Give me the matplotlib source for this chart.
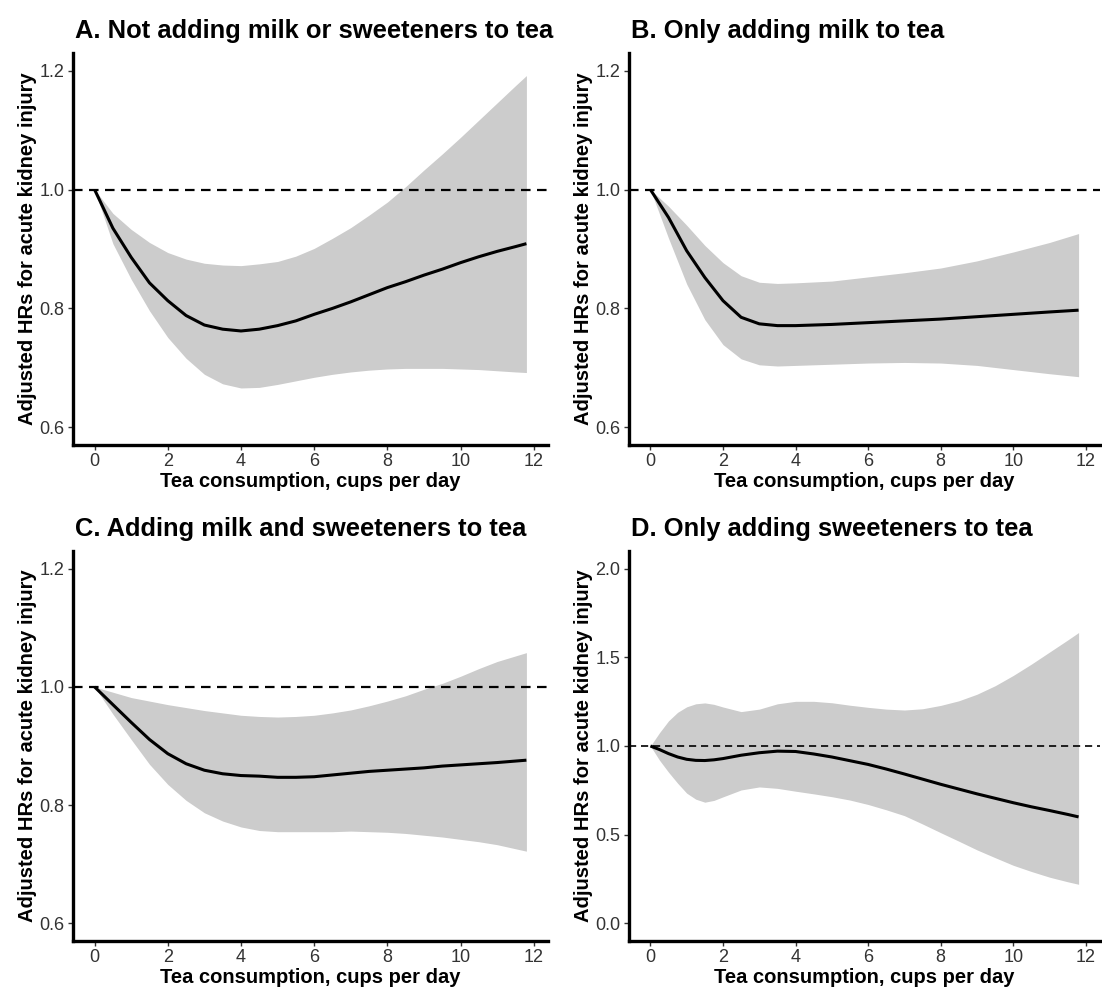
import matplotlib
matplotlib.use("Agg")
import matplotlib.pyplot as plt

plt.rcParams['font.family'] = ['Liberation Sans', 'DejaVu Sans']

titles = ["A. Not adding milk or sweeteners to tea",
          "B. Only adding milk to tea",
          "C. Adding milk and sweeteners to tea",
          "D. Only adding sweeteners to tea"]
xlabel = "Tea consumption, cups per day"
ylabel = "Adjusted HRs for acute kidney injury"

# Panel A
a_x = [0, 0.5, 1, 1.5, 2, 2.5, 3, 3.5, 4, 4.5, 5, 5.5, 6, 6.5, 7, 7.5, 8, 8.5, 9, 9.5, 10, 10.5, 11, 11.5, 11.8]
a_hr = [1.0, 0.935, 0.886, 0.843, 0.813, 0.788, 0.772, 0.765, 0.762, 0.765, 0.771, 0.779, 0.790, 0.800, 0.811,
        0.823, 0.835, 0.845, 0.856, 0.866, 0.877, 0.887, 0.896, 0.904, 0.909]
a_hi = [1.0, 0.960, 0.933, 0.911, 0.894, 0.883, 0.876, 0.873, 0.872, 0.875, 0.879, 0.888, 0.901, 0.918, 0.936,
        0.957, 0.979, 1.005, 1.033, 1.060, 1.088, 1.117, 1.146, 1.175, 1.192]
a_lo = [1.0, 0.909, 0.849, 0.796, 0.751, 0.716, 0.689, 0.673, 0.666, 0.667, 0.672, 0.678, 0.684, 0.689, 0.693,
        0.696, 0.698, 0.699, 0.699, 0.699, 0.698, 0.697, 0.695, 0.693, 0.692]

# Panel B
b_x = [0, 0.5, 1, 1.5, 2, 2.5, 3, 3.5, 4, 5, 6, 7, 8, 9, 10, 11, 11.8]
b_hr = [1.0, 0.953, 0.897, 0.852, 0.813, 0.785, 0.774, 0.771, 0.771, 0.773, 0.776, 0.779, 0.782, 0.786, 0.790, 0.794, 0.797]
b_hi = [1.0, 0.972, 0.940, 0.906, 0.877, 0.855, 0.844, 0.842, 0.843, 0.846, 0.853, 0.860, 0.868, 0.880, 0.895, 0.911, 0.926]
b_lo = [1.0, 0.918, 0.841, 0.781, 0.739, 0.715, 0.705, 0.703, 0.704, 0.706, 0.708, 0.709, 0.708, 0.704, 0.697, 0.690, 0.685]

# Panel C
c_x = [0, 0.5, 1, 1.5, 2, 2.5, 3, 3.5, 4, 4.5, 5, 5.5, 6, 6.5, 7, 7.5, 8, 8.5, 9, 9.5, 10, 10.5, 11, 11.8]
c_hr = [1.0, 0.970, 0.940, 0.911, 0.887, 0.870, 0.859, 0.853, 0.850, 0.849, 0.847, 0.847, 0.848, 0.851, 0.854,
        0.857, 0.859, 0.861, 0.863, 0.866, 0.868, 0.870, 0.872, 0.876]
c_hi = [1.0, 0.991, 0.982, 0.976, 0.970, 0.965, 0.960, 0.956, 0.952, 0.950, 0.949, 0.950, 0.952, 0.956, 0.961,
        0.968, 0.976, 0.985, 0.996, 1.006, 1.018, 1.031, 1.043, 1.058]
c_lo = [1.0, 0.954, 0.911, 0.869, 0.835, 0.808, 0.787, 0.773, 0.763, 0.757, 0.755, 0.755, 0.755, 0.755, 0.756,
        0.755, 0.754, 0.752, 0.749, 0.746, 0.742, 0.738, 0.733, 0.722]

# Panel D
d_x = [0, 0.25, 0.5, 0.75, 1, 1.25, 1.5, 1.75, 2, 2.5, 3, 3.5, 4, 4.5, 5, 5.5, 6, 6.5, 7, 7.5, 8, 8.5, 9, 9.5,
       10, 10.5, 11, 11.5, 11.8]
d_hr = [1.0, 0.980, 0.957, 0.938, 0.925, 0.919, 0.918, 0.922, 0.929, 0.948, 0.962, 0.971, 0.969, 0.955, 0.938,
        0.917, 0.896, 0.870, 0.842, 0.813, 0.784, 0.757, 0.730, 0.705, 0.680, 0.657, 0.636, 0.614, 0.600]
d_hi = [1.0, 1.075, 1.142, 1.190, 1.221, 1.238, 1.243, 1.235, 1.220, 1.194, 1.208, 1.238, 1.252, 1.252, 1.244,
        1.230, 1.218, 1.208, 1.203, 1.210, 1.229, 1.255, 1.292, 1.340, 1.398, 1.462, 1.530, 1.598, 1.640]
d_lo = [1.0, 0.920, 0.852, 0.790, 0.734, 0.700, 0.683, 0.693, 0.713, 0.752, 0.769, 0.761, 0.745, 0.730, 0.714,
        0.695, 0.670, 0.640, 0.607, 0.560, 0.511, 0.463, 0.414, 0.370, 0.327, 0.292, 0.260, 0.234, 0.220]

x_ticks = [0, 2, 4, 6, 8, 10, 12]
y_ticks_abc = [0.6, 0.8, 1.0, 1.2]
y_ticks_d = [0.0, 0.5, 1.0, 1.5, 2.0]

panels = [
    (a_x, a_hr, a_hi, a_lo, y_ticks_abc, (0.57, 1.23)),
    (b_x, b_hr, b_hi, b_lo, y_ticks_abc, (0.57, 1.23)),
    (c_x, c_hr, c_hi, c_lo, y_ticks_abc, (0.57, 1.23)),
    (d_x, d_hr, d_hi, d_lo, y_ticks_d, (-0.1, 2.1)),
]

W, H = 1102, 992
fig = plt.figure(figsize=(W / 100, H / 100), dpi=100)

# pixel boxes: left, right, top, bottom
boxes = [(73, 548, 53, 445), (629, 1100, 53, 445),
         (73, 548, 551, 941), (629, 1100, 551, 941)]

for i, (box, pdata) in enumerate(zip(boxes, panels)):
    l, r, t, b = box
    ax = fig.add_axes([l / W, (H - b) / H, (r - l) / W, (b - t) / H])
    xs, hr, hi, lo, yt, ylim = pdata
    ax.fill_between(xs, lo, hi, color='#cccccc', linewidth=0, zorder=1)
    ax.plot(xs, hr, color='black', linewidth=2.2, zorder=3, solid_capstyle='butt',
            solid_joinstyle='round')
    ax.axhline(1.0, color='black', linewidth=1.6 if i < 3 else 1.2,
               linestyle=(0, (4.3, 2.9)), zorder=2)
    ax.set_xlim(-0.59, 12.39)
    ax.set_ylim(*ylim)
    ax.set_xticks(x_ticks)
    ax.set_xticklabels([str(v) for v in x_ticks])
    ax.set_yticks(yt)
    ax.set_yticklabels([f"{v:.1f}" for v in yt])
    for s in ['top', 'right']:
        ax.spines[s].set_visible(False)
    for s in ['left', 'bottom']:
        ax.spines[s].set_linewidth(2.4)
        ax.spines[s].set_color('black')
    ax.tick_params(axis='both', length=3.6, width=1.0, color='#333333',
                   labelsize=13, labelcolor='#333333', pad=2.5)
    ax.set_xlabel(xlabel, fontsize=14.5, fontweight='bold', labelpad=1)
    ax.set_ylabel(ylabel, fontsize=14.5, fontweight='bold', labelpad=2)
    ax.set_title(titles[i], fontsize=18.4, fontweight='bold', loc='left', pad=11, x=0.005)

fig.savefig("out.png", dpi=100)
